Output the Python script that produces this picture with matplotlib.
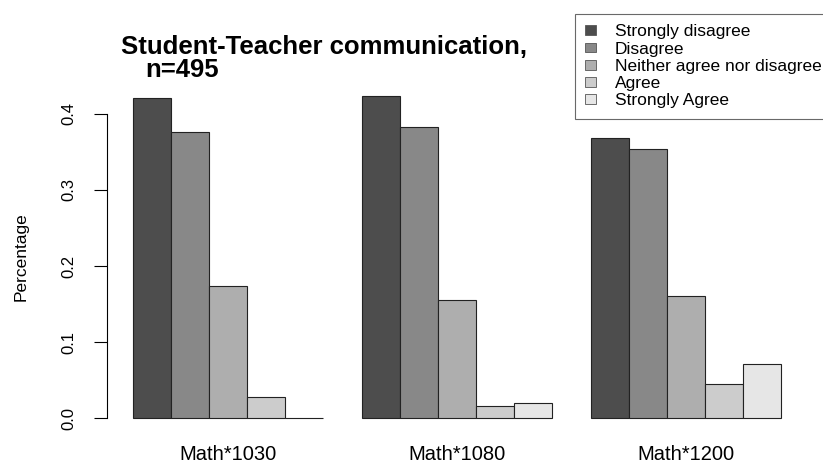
import matplotlib
matplotlib.use("Agg")
import matplotlib.pyplot as plt
import numpy as np

plt.rcParams['font.family'] = ['Liberation Sans', 'DejaVu Sans']

# --- data --- #
courses = ["Math*1030", "Math*1080", "Math*1200"]
responses = ["Strongly disagree", "Disagree", "Neither agree nor disagree",
             "Agree", "Strongly Agree"]
strongly_disagree = [0.420, 0.423, 0.368]
disagree = [0.376, 0.383, 0.353]
neither = [0.174, 0.155, 0.160]
agree = [0.028, 0.016, 0.045]
strongly_agree = [0.000, 0.020, 0.071]
# gray.colors(5) like R
bar_colors = ["#4D4D4D", "#888888", "#AEAEAE", "#CCCCCC", "#E6E6E6"]
# -------------------------------- #

series = [strongly_disagree, disagree, neither, agree, strongly_agree]
n_resp = len(series)

fig = plt.figure(figsize=(8.23, 4.66), dpi=100)
ax = fig.add_axes([0.1296, 0.0747, 0.981 - 0.1296, 0.8215 - 0.0747])

# R barplot(beside=TRUE) layout: bars width 1, one bar gap before each group
for j, vals in enumerate(series):
    x = [g * (n_resp + 1) + 1 + j for g in range(len(courses))]
    ax.bar(x, vals, width=1.0, align='edge', color=bar_colors[j],
           edgecolor='#222222', linewidth=0.8, label=responses[j])

centers = [g * (n_resp + 1) + 1 + n_resp / 2 for g in range(len(courses))]
ax.set_xlim(0.32, 18.68)
ax.set_ylim(-0.017, 0.44)

for s in ["top", "right", "bottom"]:
    ax.spines[s].set_visible(False)
ax.spines["left"].set_bounds(0, 0.4)
ax.spines["left"].set_linewidth(0.8)

ax.set_yticks(np.arange(0, 0.41, 0.1))
ax.set_yticklabels(["0.0", "0.1", "0.2", "0.3", "0.4"])
ax.tick_params(axis='y', length=9.5, width=0.8, pad=12, labelsize=12)
plt.setp(ax.get_yticklabels(), rotation=90, va='center')

ax.set_xticks(centers)
ax.set_xticklabels(courses)
ax.tick_params(axis='x', length=0, pad=10, labelsize=14.5)

fig.text(21 / 823, 1 - 257 / 466, "Percentage", rotation=90,
         ha='center', va='center', fontsize=12.5)

fig.text(120.7 / 823, 1 - 54 / 466, "Student-Teacher communication,",
         fontsize=18.5, fontweight='bold', ha='left', va='baseline')
fig.text(145.7 / 823, 1 - 77 / 466, "n=495",
         fontsize=18.5, fontweight='bold', ha='left', va='baseline')

leg = fig.legend(loc='upper left', bbox_to_anchor=(575 / 823, 1 - 14 / 466),
                 fontsize=12.5, frameon=True, fancybox=False,
                 handlelength=0.6, handleheight=0.5, handletextpad=1.1,
                 labelspacing=0.13, borderpad=0.6, borderaxespad=0)
leg.get_frame().set_edgecolor('#444444')
leg.get_frame().set_linewidth(0.8)
for p in leg.get_patches():
    p.set_edgecolor('#555555')
    p.set_linewidth(0.6)

fig.savefig("out.png", dpi=100)
